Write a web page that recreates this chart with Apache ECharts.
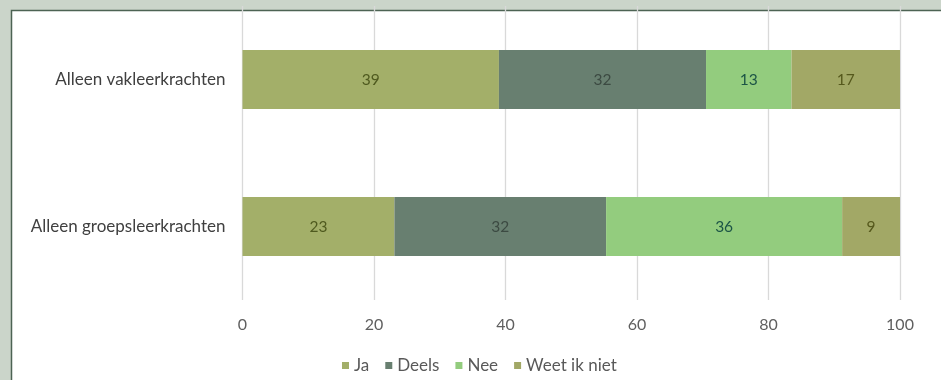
<!DOCTYPE html>
<html>
<head>
<meta charset="utf-8">
<script src="https://cdn.jsdelivr.net/npm/echarts@6/dist/echarts.min.js"></script>
<style>
html,body{margin:0;padding:0;background:#cbd5ca;}
#chart{width:941px;height:380px;}
</style>
</head>
<body>
<div id="chart"></div>
<script>
var categories = ['Alleen groepsleerkrachten', 'Alleen vakleerkrachten'];
var seriesNames = ['Ja', 'Deels', 'Nee', 'Weet ik niet'];
var jaValues = [23.1, 39.0];
var deelsValues = [32.2, 31.5];
var neeValues = [35.9, 13.0];
var weetValues = [8.8, 16.5];
var xTicks = [0, 20, 40, 60, 80, 100];

var colors = ['#a3af69', '#687f70', '#93cc7e', '#a2a866'];
var labelColors = ['#4f5a1f', '#3c4a42', '#1c5446', '#55581c'];
var allValues = [jaValues, deelsValues, neeValues, weetValues];

var chart = echarts.init(document.getElementById('chart'));
var series = seriesNames.map(function (name, i) {
  return {
    name: name,
    type: 'bar',
    stack: 'total',
    data: allValues[i],
    barWidth: 59,
    itemStyle: { color: colors[i] },
    label: {
      show: true,
      position: 'inside',
      color: labelColors[i],
      fontFamily: 'Lato',
      fontSize: 15.5,
      formatter: function (p) { return Math.round(p.value); }
    }
  };
});

chart.setOption({
  backgroundColor: '#cbd5ca',
  animation: false,
  graphic: [{
    type: 'rect',
    z: -10,
    silent: true,
    shape: { x: 11.5, y: 10.5, width: 940, height: 380 },
    style: { fill: '#ffffff', stroke: '#4d6354', lineWidth: 1.5 }
  }],
  color: colors,
  legend: {
    data: seriesNames,
    left: 337,
    top: 352,
    itemWidth: 7,
    itemHeight: 7,
    itemGap: 16,
    icon: 'rect',
    textStyle: { fontFamily: 'Lato', fontSize: 17, color: '#595959' }
  },
  grid: { left: 242.5, right: 41, top: 6, bottom: 80, containLabel: false },
  xAxis: {
    type: 'value',
    min: 0,
    max: 100,
    interval: 20,
    axisLine: { show: false },
    axisTick: { show: false },
    splitLine: { show: true, lineStyle: { color: '#d9d9d9', width: 1.3 } },
    axisLabel: {
      fontFamily: 'Lato', fontSize: 16, color: '#5f5f5f', margin: 17,
      formatter: function (v) { return xTicks.indexOf(v) >= 0 ? String(v) : ''; }
    }
  },
  yAxis: {
    type: 'category',
    data: categories,
    axisLine: { show: false },
    axisTick: { show: false },
    axisLabel: { fontFamily: 'Lato', fontSize: 17, color: '#404040', margin: 17 }
  },
  series: series
});
</script>
</body>
</html>
